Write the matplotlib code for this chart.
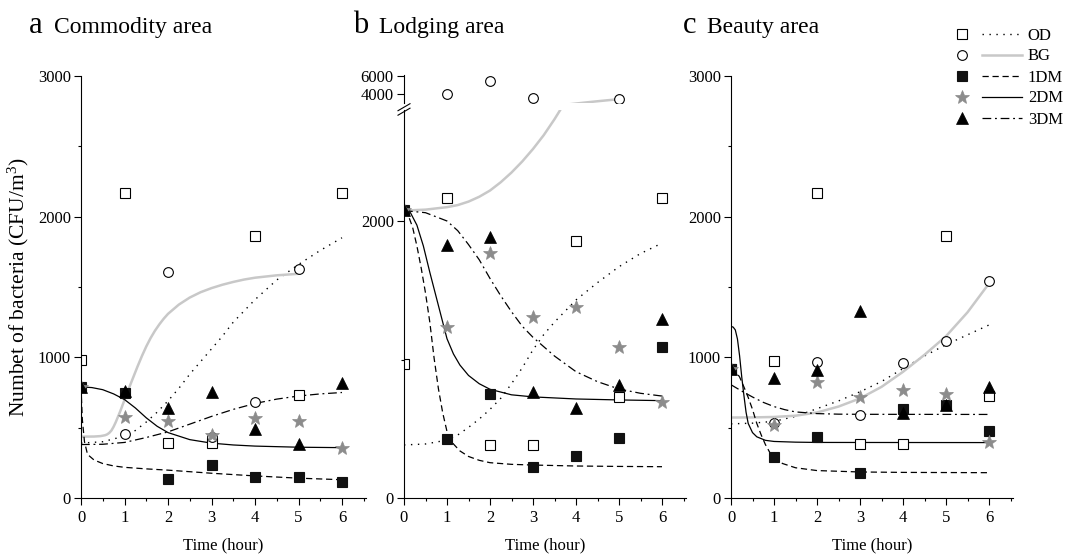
import matplotlib.pyplot as plt
from matplotlib.lines import Line2D
from matplotlib.legend_handler import HandlerTuple
from matplotlib.ticker import MultipleLocator, FixedLocator

plt.rcParams['font.family'] = 'serif'
plt.rcParams['font.serif'] = ['Liberation Serif', 'DejaVu Serif']
plt.rcParams['mathtext.fontset'] = 'custom'
plt.rcParams['mathtext.rm'] = 'Liberation Serif'
plt.rcParams['mathtext.default'] = 'regular'

names = ['OD', 'BG', '1DM', '2DM', '3DM']
hours = [0, 1, 2, 3, 4, 5, 6]

# ---- a  Commodity area (measured points)
a_od = [980, 2170, 390, 390, 1860, 730, 2170]
a_bg_t = [1, 2, 3, 4, 5]
a_bg = [455, 1605, 435, 680, 1625]
a_1dm = [790, 745, 135, 235, 152, 147, 116]
a_2dm = [790, 579, 548, 448, 567, 550, 354]
a_3dm = [790, 760, 638, 757, 489, 384, 821]

# fitted curves
a_od_fit_t = [0, 0.5, 1, 1.25, 1.5, 1.75, 2, 2.25, 2.5, 2.75, 3, 3.25, 3.5, 3.75, 4, 4.5, 5, 5.5, 6]
a_od_fit = [390, 400, 440, 480, 540, 610, 690, 780, 880, 970, 1060, 1150, 1250, 1330, 1410, 1550, 1660, 1760, 1850]
a_bg_fit_t = [0, 0.3, 0.45, 0.55, 0.6, 0.65, 0.7, 0.75, 0.8, 0.9, 1.0, 1.1, 1.2, 1.3, 1.4, 1.5, 1.6, 1.7,
              1.8, 1.9, 2.0, 2.25, 2.5, 2.75, 3.0, 3.25, 3.5, 3.75, 4, 4.5, 5]
a_bg_fit = [436, 437, 440, 446, 452, 463, 480, 507, 540, 615, 697, 779, 857, 935, 1009, 1077, 1137, 1189,
            1234, 1274, 1309, 1375, 1425, 1463, 1492, 1516, 1536, 1553, 1566, 1583, 1594]
a_1dm_fit_t = [0, 0.03, 0.08, 0.15, 0.3, 0.5, 0.75, 1, 1.5, 2, 3, 4, 5, 6]
a_1dm_fit = [790, 560, 400, 310, 270, 245, 228, 218, 207, 198, 176, 157, 141, 130]
a_2dm_fit_t = [0, 0.25, 0.5, 0.75, 1, 1.25, 1.5, 1.75, 2, 2.5, 3, 3.5, 4, 5, 6]
a_2dm_fit = [790, 785, 770, 740, 700, 640, 570, 510, 465, 415, 390, 377, 369, 361, 358]
a_3dm_fit_t = [0, 0.5, 1, 1.5, 2, 2.5, 3, 3.5, 4, 4.5, 5, 5.5, 6]
a_3dm_fit = [380, 382, 395, 430, 470, 525, 580, 630, 672, 703, 725, 740, 750]

# ---- b  Lodging area
b_od = [970, 2165, 383, 383, 1855, 727, 2165]
b_bg_t = [0, 1, 2, 3, 5]
b_bg = [2080, 4000, 5420, 3640, 3460]
b_1dm = [2080, 426, 751, 226, 305, 431, 1088]
b_2dm = [2080, 1237, 1767, 1305, 1381, 1093, 696]
b_3dm = [2080, 1827, 1887, 763, 652, 816, 1293]

b_od_fit_t = [0, 0.5, 1, 1.25, 1.5, 1.75, 2, 2.25, 2.5, 2.75, 3, 3.25, 3.5, 3.75, 4, 4.5, 5, 5.5, 6]
b_od_fit = [383, 390, 418, 455, 510, 570, 640, 720, 825, 940, 1070, 1180, 1270, 1350, 1430, 1555, 1670, 1765, 1840]
b_bg_fit_t = [0, 0.5, 1, 1.25, 1.5, 1.75, 2, 2.25, 2.5, 2.75, 3, 3.25, 3.5, 3.75, 4, 4.25, 4.5, 4.75, 5]
b_bg_fit = [2075, 2082, 2100, 2115, 2140, 2175, 2220, 2280, 2350, 2430, 2520, 2620, 2735, 2860, 2995, 3125, 3245, 3360, 3465]
b_1dm_fit_t = [0, 0.1, 0.2, 0.3, 0.4, 0.5, 0.6, 0.7, 0.8, 0.9, 1, 1.15, 1.3, 1.5, 1.75, 2, 2.5, 3, 4, 5, 6]
b_1dm_fit = [2080, 2040, 1955, 1820, 1660, 1480, 1270, 1010, 790, 615, 480, 390, 340, 300, 272, 255, 243, 238, 231, 228, 226]
b_2dm_fit_t = [0, 0.15, 0.3, 0.45, 0.6, 0.75, 0.9, 1, 1.15, 1.3, 1.5, 1.75, 2, 2.5, 3, 4, 5, 6]
b_2dm_fit = [2080, 2060, 1970, 1820, 1630, 1450, 1270, 1150, 1040, 960, 885, 825, 785, 745, 730, 715, 708, 703]
b_3dm_fit_t = [0, 0.5, 1, 1.25, 1.5, 1.75, 2, 2.25, 2.5, 2.75, 3, 3.5, 4, 4.5, 5, 5.5, 6]
b_3dm_fit = [2075, 2060, 2000, 1930, 1830, 1720, 1585, 1460, 1345, 1240, 1160, 1025, 912, 840, 787, 756, 736]

# ---- c  Beauty area
c_od = [915, 975, 2170, 384, 384, 1865, 728]
c_bg_t = [1, 2, 3, 4, 5, 6]
c_bg = [531, 970, 591, 958, 1113, 1540]
c_1dm = [920, 294, 432, 180, 631, 662, 477]
c_2dm = [920, 520, 828, 721, 769, 740, 396]
c_3dm = [920, 852, 911, 1331, 603, 660, 792]

c_od_fit_t = [0, 0.5, 1, 1.5, 2, 2.5, 3, 3.5, 4, 4.5, 5, 5.5, 6]
c_od_fit = [527, 532, 545, 580, 635, 690, 755, 828, 920, 1010, 1090, 1160, 1230]
c_bg_fit_t = [0, 0.5, 1, 1.5, 2, 2.5, 3, 3.5, 4, 4.5, 5, 5.5, 6]
c_bg_fit = [572, 573, 576, 585, 608, 650, 708, 790, 897, 1018, 1150, 1320, 1525]
c_1dm_fit_t = [0, 0.1, 0.2, 0.3, 0.4, 0.5, 0.6, 0.7, 0.8, 0.9, 1, 1.2, 1.5, 2, 3, 4, 5, 6]
c_1dm_fit = [920, 905, 860, 790, 715, 630, 530, 450, 380, 325, 285, 245, 215, 195, 185, 182, 181, 180]
c_2dm_fit_t = [0, 0.05, 0.1, 0.15, 0.2, 0.25, 0.3, 0.35, 0.4, 0.5, 0.6, 0.8, 1, 1.5, 2, 6]
c_2dm_fit = [1220, 1215, 1195, 1130, 1010, 860, 730, 610, 530, 465, 435, 410, 402, 397, 395, 394]
c_3dm_fit_t = [0, 0.25, 0.5, 0.75, 1, 1.25, 1.5, 2, 2.5, 3, 6]
c_3dm_fit = [805, 760, 718, 680, 650, 628, 612, 600, 596, 595, 594]

# marker and line styles per series
mk = {
    'OD': dict(marker='s', ms=6.5, mfc='white', mec='black', mew=0.8),
    'BG': dict(marker='o', ms=7, mfc='white', mec='black', mew=0.8),
    '1DM': dict(marker='s', ms=6.5, mfc='#111111', mec='#111111', mew=0.8),
    '2DM': dict(marker='*', ms=10, mfc='#8c8c8c', mec='#8c8c8c', mew=0.5),
    '3DM': dict(marker='^', ms=8.5, mfc='black', mec='black', mew=0.5),
}
ln = {
    'OD': dict(color='black', lw=1.0, linestyle=(0, (1, 4))),
    'BG': dict(color='#c8c8c8', lw=1.8, linestyle='-'),
    '1DM': dict(color='black', lw=0.9, linestyle=(0, (5, 3))),
    '2DM': dict(color='black', lw=0.9, linestyle='-'),
    '3DM': dict(color='black', lw=0.9, linestyle=(0, (7, 3, 1.5, 3))),
}

pts_a = {'OD': (hours, a_od), 'BG': (a_bg_t, a_bg), '1DM': (hours, a_1dm), '2DM': (hours, a_2dm), '3DM': (hours, a_3dm)}
fit_a = {'OD': (a_od_fit_t, a_od_fit), 'BG': (a_bg_fit_t, a_bg_fit), '1DM': (a_1dm_fit_t, a_1dm_fit),
         '2DM': (a_2dm_fit_t, a_2dm_fit), '3DM': (a_3dm_fit_t, a_3dm_fit)}
pts_b = {'OD': (hours, b_od), 'BG': (b_bg_t, b_bg), '1DM': (hours, b_1dm), '2DM': (hours, b_2dm), '3DM': (hours, b_3dm)}
fit_b = {'OD': (b_od_fit_t, b_od_fit), 'BG': (b_bg_fit_t, b_bg_fit), '1DM': (b_1dm_fit_t, b_1dm_fit),
         '2DM': (b_2dm_fit_t, b_2dm_fit), '3DM': (b_3dm_fit_t, b_3dm_fit)}
pts_c = {'OD': (hours, c_od), 'BG': (c_bg_t, c_bg), '1DM': (hours, c_1dm), '2DM': (hours, c_2dm), '3DM': (hours, c_3dm)}
fit_c = {'OD': (c_od_fit_t, c_od_fit), 'BG': (c_bg_fit_t, c_bg_fit), '1DM': (c_1dm_fit_t, c_1dm_fit),
         '2DM': (c_2dm_fit_t, c_2dm_fit), '3DM': (c_3dm_fit_t, c_3dm_fit)}


def draw(ax, pts, fits):
    for n in names:
        ax.plot(*fits[n], **ln[n])
    for n in names:
        ax.plot(*pts[n], linestyle='none', **mk[n])


def style(ax, xaxis=True):
    ax.spines['top'].set_visible(False)
    ax.spines['right'].set_visible(False)
    ax.spines['left'].set_linewidth(0.8)
    ax.spines['bottom'].set_linewidth(0.8)
    ax.tick_params(which='major', direction='out', length=4.8, width=0.8, labelsize=12, pad=2.5)
    ax.tick_params(which='minor', direction='out', length=2.4, width=0.8)
    ax.set_xlim(0, 6.55)
    if xaxis:
        ax.set_xticks(hours)
        ax.xaxis.set_minor_locator(MultipleLocator(0.5))
        ax.tick_params(axis='x', pad=4)
        ax.set_xlabel('Time (hour)', fontsize=12, labelpad=8)
    else:
        ax.spines['bottom'].set_visible(False)
        ax.set_xticks([])


fig = plt.figure(figsize=(10.7, 5.57), dpi=100)
W, H = 1070.0, 557.0

# panel a
ax_a = fig.add_axes([81 / W, 59 / H, 6.55 * 43.5 / W, 422 / H])
draw(ax_a, pts_a, fit_a)
style(ax_a)
ax_a.set_ylim(0, 3000)
ax_a.set_yticks([0, 1000, 2000, 3000])
ax_a.yaxis.set_minor_locator(MultipleLocator(500))
ax_a.set_ylabel('Numbet of bacteria (CFU/m$^3$)', fontsize=15.5)
ax_a.yaxis.set_label_coords(-0.175, 0.5)

# panel b, broken y axis: lower part and upper part
ax_b = fig.add_axes([404 / W, 59 / H, 6.55 * 43 / W, 387.8 / H])
draw(ax_b, pts_b, fit_b)
style(ax_b)
ax_b.set_ylim(0, 2800)
ax_b.set_yticks([0, 2000])
ax_b.yaxis.set_minor_locator(FixedLocator([1000]))

ax_b2 = fig.add_axes([404 / W, (H - 103.5) / H, 6.55 * 43 / W, 28.9 / H])
draw(ax_b2, pts_b, fit_b)
style(ax_b2, xaxis=False)
ax_b2.set_ylim(3000, 6150)
ax_b2.set_yticks([4000, 6000])
ax_b2.patch.set_alpha(0)

# break marks on the y axis
sx = 1 / (6.55 * 43)
sy = 1 / 387.8
for off in [0, 4.5]:
    ax_b.plot([-6 * sx, 6 * sx], [1 + (off - 5) * sy, 1 + (off + 2) * sy],
              transform=ax_b.transAxes, color='black', lw=0.8, clip_on=False)

# panel c
ax_c = fig.add_axes([731 / W, 59 / H, 6.55 * 43 / W, 422 / H])
draw(ax_c, pts_c, fit_c)
style(ax_c)
ax_c.set_ylim(0, 3000)
ax_c.set_yticks([0, 1000, 2000, 3000])
ax_c.yaxis.set_minor_locator(MultipleLocator(500))

# panel titles
ty = 1 - 33 / H
for lx, letter, nx, title in [(29, 'a', 54, 'Commodity area'), (353, 'b', 379, 'Lodging area'),
                              (683, 'c', 707, 'Beauty area')]:
    fig.text(lx / W, ty, letter, fontsize=22, va='baseline')
    fig.text(nx / W, ty, title, fontsize=17, va='baseline')

# legend: marker, then line sample, then label
handles = [(Line2D([], [], linestyle='none', **mk[n]), Line2D([], [], **ln[n])) for n in names]
fig.legend(handles, names, loc='upper left', bbox_to_anchor=(942 / W, 1 - 27.5 / H),
           handler_map={tuple: HandlerTuple(ndivide=None, pad=0)}, frameon=False,
           handlelength=4.8, handletextpad=0.35, labelspacing=0.3, borderpad=0,
           borderaxespad=0, fontsize=12)

fig.savefig('out.png', dpi=100)
